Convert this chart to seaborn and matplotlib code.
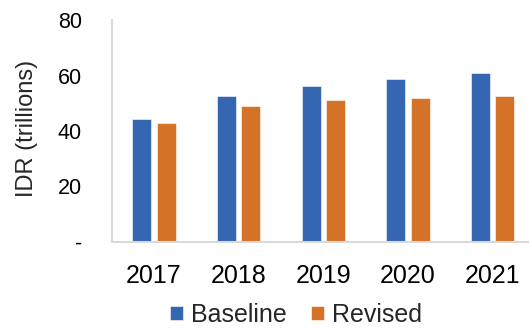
import matplotlib
matplotlib.use("Agg")
import matplotlib.pyplot as plt
import seaborn as sns
import pandas as pd

years = ["2017", "2018", "2019", "2020", "2021"]
baseline = [44.5, 52.5, 56.2, 58.6, 60.8]
revised = [42.8, 48.9, 51.1, 52.0, 52.5]
series_names = ["Baseline", "Revised"]
y_ticks = [0, 20, 40, 60, 80]
y_tick_labels = ["-", "20", "40", "60", "80"]

df = pd.DataFrame({
    "year": years * 2,
    "value": baseline + revised,
    "series": [series_names[0]] * len(years) + [series_names[1]] * len(years),
})

sns.set_theme(style="white")
plt.rcParams["font.family"] = ["Liberation Sans", "DejaVu Sans"]

W, H = 529, 329
fig = plt.figure(figsize=(W / 100, H / 100), dpi=100)
ax = fig.add_axes([111.7 / W, 1 - 242 / H, (535 - 111.7) / W, (242 - 20) / H])

palette = {"Baseline": "#3566B1", "Revised": "#D47228"}
sns.barplot(data=df, x="year", y="value", hue="series", palette=palette,
            width=0.576, gap=0.22, order=years, hue_order=series_names,
            edgecolor="white", linewidth=0.4, saturation=1, ax=ax)

ax.set_xlim(-0.5, 4.5)
ax.set_ylim(0, 80)
ax.set_yticks(y_ticks)
ax.set_yticklabels(y_tick_labels)
ax.set_xlabel("")
ax.set_ylabel("IDR (trillions)", fontsize=17)
ax.yaxis.set_label_coords(-0.174, 0.51)
ax.tick_params(axis="both", length=0, colors="#000000")
ax.tick_params(axis="y", pad=21.5, labelsize=15.5)
ax.tick_params(axis="x", pad=15.5, labelsize=18)

for side in ["top", "right"]:
    ax.spines[side].set_visible(False)
for side in ["left", "bottom"]:
    ax.spines[side].set_color("#D9D9D9")
    ax.spines[side].set_linewidth(1.5)

leg = ax.get_legend()
if leg is not None:
    leg.remove()
handles, labels = ax.get_legend_handles_labels()
fig.legend(handles, labels, loc="center", bbox_to_anchor=(296 / W, 1 - 315 / H),
           ncol=2, frameon=False, fontsize=18, handlelength=0.52, handleheight=0.52,
           handletextpad=0.3, columnspacing=1.0, borderaxespad=0)

fig.savefig("out.png", dpi=100)
